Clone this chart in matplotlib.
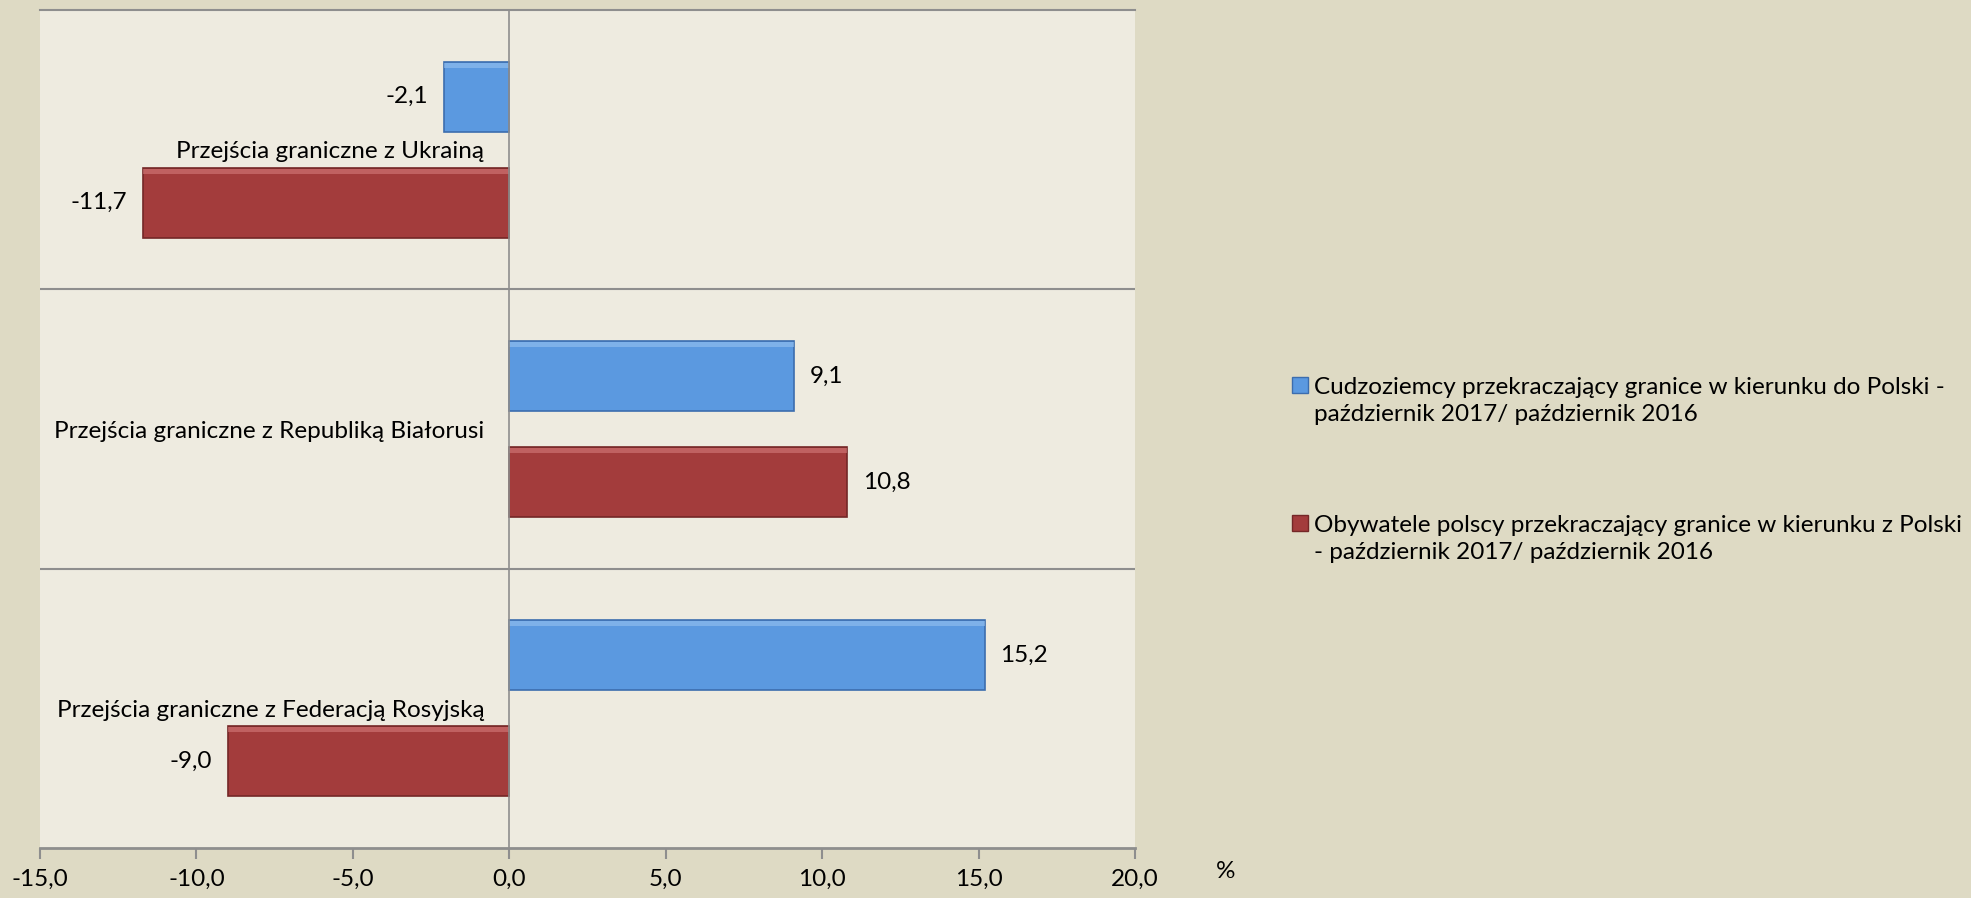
import matplotlib
matplotlib.use('Agg')
import matplotlib.pyplot as plt
import numpy as np
from matplotlib.patches import Rectangle
from matplotlib.ticker import FuncFormatter

# dane
categories = ['Przejścia graniczne z Ukrainą',
              'Przejścia graniczne z Republiką Białorusi',
              'Przejścia graniczne z Federacją Rosyjską']
cudzoziemcy = [-2.1, 9.1, 15.2]
obywatele = [-11.7, 10.8, -9.0]
series_labels = ['Cudzoziemcy przekraczający granice w kierunku do Polski -\npaździernik 2017/ październik 2016',
                 'Obywatele polscy przekraczający granice w kierunku z Polski\n- październik 2017/ październik 2016']
xticks = [-15, -10, -5, 0, 5, 10, 15, 20]

FS = 17.5
plt.rcParams['font.family'] = ['Lato', 'DejaVu Sans']
plt.rcParams['font.size'] = FS

BG = '#DEDAC4'
PLOT_BG = '#EEEBE0'
BLUE = '#5B99E0'
BLUE_EDGE = '#3C6DAE'
RED = '#A33C3C'
RED_EDGE = '#742727'
GRID = '#8E8E8E'

W, H = 1971, 898
fig = plt.figure(figsize=(W / 100, H / 100), dpi=100, facecolor=BG)
ax = fig.add_axes([40 / W, 50 / H, 1095 / W, 838 / H], facecolor=PLOT_BG)

y = np.arange(len(categories))
h = 0.25
off = 0.19

def draw_bars(vals, ypos, color, edge, light):
    ax.barh(ypos, vals, height=h, color=color, edgecolor=edge, linewidth=1.2, zorder=3)
    # delikatny efekt skosu: jaśniejszy pasek u góry
    ax.barh(ypos - h / 2 + 0.012, vals, height=0.018, color=light, linewidth=0, alpha=0.55, zorder=4)

draw_bars(cudzoziemcy, y - off, BLUE, BLUE_EDGE, '#9CC6F2')
draw_bars(obywatele, y + off, RED, RED_EDGE, '#D88080')

def fmt(v):
    return f'{v:.1f}'.replace('.', ',')

for vals, ypos in [(cudzoziemcy, y - off), (obywatele, y + off)]:
    for v, yy in zip(vals, ypos):
        if v < 0:
            ax.text(v - 0.5, yy, fmt(v), ha='right', va='center', fontsize=FS)
        else:
            ax.text(v + 0.5, yy, fmt(v), ha='left', va='center', fontsize=FS)

ax.set_xlim(-15, 20)
ax.set_ylim(2.5, -0.5)
ax.set_xticks(xticks)
ax.xaxis.set_major_formatter(FuncFormatter(lambda v, p: fmt(v)))
ax.tick_params(axis='x', direction='out', length=8, color=GRID, width=1.5, pad=7, labelsize=FS)

ax.spines['left'].set_position(('data', 0))
ax.spines['left'].set_color(GRID)
ax.spines['left'].set_linewidth(1.2)
ax.spines['left'].set_zorder(5)
ax.spines['right'].set_visible(False)
ax.spines['top'].set_color(GRID)
ax.spines['top'].set_linewidth(1.5)
ax.spines['bottom'].set_color(GRID)
ax.spines['bottom'].set_linewidth(2)

ax.set_yticks(y)
ax.set_yticklabels(categories)
ax.tick_params(axis='y', length=0, pad=18, labelsize=FS)

for b in [0.5, 1.5]:
    ax.axhline(b, color=GRID, linewidth=1.5, zorder=1)

# legenda (ręcznie, znacznik przy pierwszej linii)
leg_rows = [(BLUE, BLUE_EDGE, 385, 401), (RED, RED_EDGE, 523, 539)]
for (fc, ec, y_mark, y_txt), lab in zip(leg_rows, series_labels):
    fig.patches.append(Rectangle((1292 / W, 1 - (y_mark + 8) / H), 16 / W, 16 / H,
                                 transform=fig.transFigure, facecolor=fc, edgecolor=ec, linewidth=1))
    fig.text(1314 / W, 1 - y_txt / H, lab, ha='left', va='center', fontsize=FS, linespacing=1.35)

fig.text(1226 / W, 1 - 871 / H, '%', ha='center', va='center', fontsize=FS)

fig.savefig('out.png', dpi=100, facecolor=BG)
plt.close()
